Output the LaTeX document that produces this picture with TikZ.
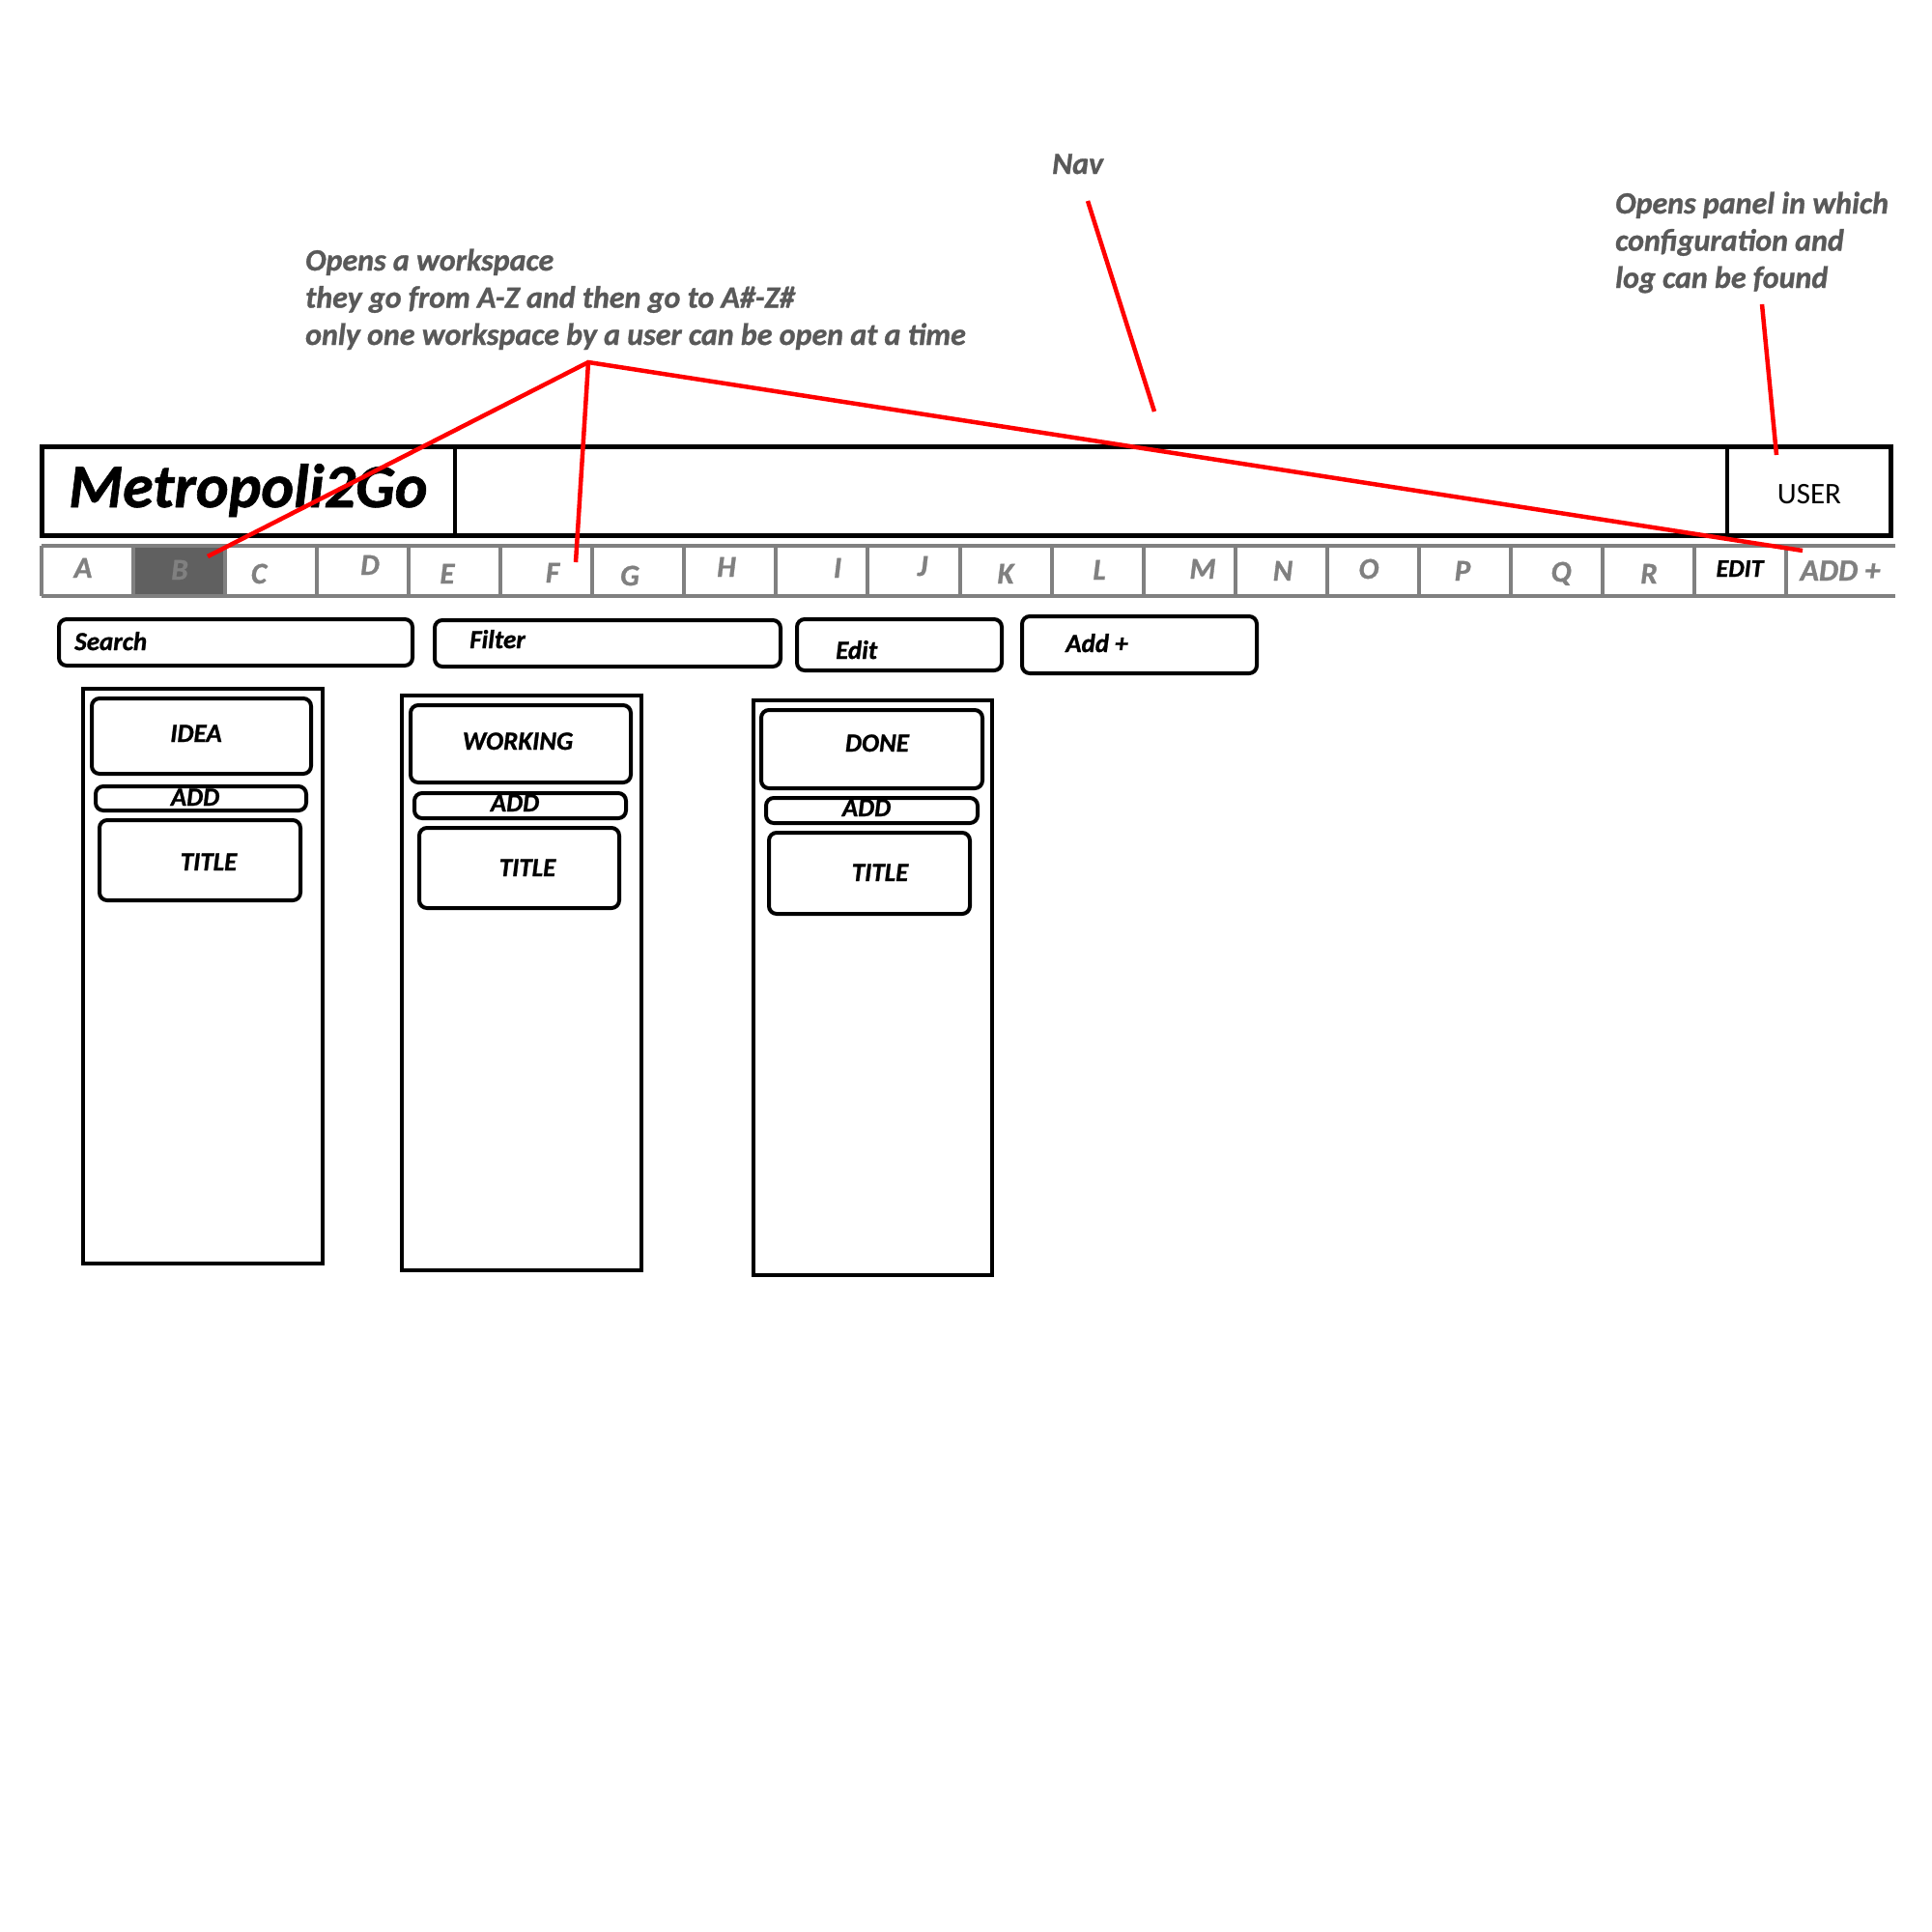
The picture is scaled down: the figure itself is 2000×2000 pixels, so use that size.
\documentclass[tikz,border=0pt]{standalone}
\usepackage{fontspec}
\setmainfont{Carlito}[BoldItalicFeatures={FakeBold=1}]
\definecolor{annot}{HTML}{595959}
\definecolor{tabgray}{HTML}{808080}
\definecolor{tabsel}{HTML}{606060}
\begin{document}
\begin{tikzpicture}[x=1pt,y=-1pt,
  hdrline/.style={draw=black,line width=5pt},
  divline/.style={draw=black,line width=4pt},
  tabline/.style={draw=tabgray,line width=4pt},
  redline/.style={draw=red,line width=4.5pt},
  colbox/.style={draw=black,line width=4pt},
  rbox/.style={draw=black,line width=4pt,rounded corners=8pt},
  note/.style={text=annot,font=\fontsize{32}{38.5}\selectfont\bfseries\itshape,align=left,inner sep=0pt,anchor=base west},
  tabtxt/.style={text=tabgray,font=\fontsize{31}{36}\selectfont\bfseries\itshape,inner sep=0pt,anchor=base},
  lbl/.style={font=\fontsize{27}{30}\selectfont\bfseries\itshape,inner sep=0pt,anchor=base},
  lblw/.style={lbl,anchor=base west},
]
\useasboundingbox (0,0) rectangle (2000,2000);
\fill[white] (0,0) rectangle (2000,2000);

% annotations (anchor at baseline of the last line)
\node[note] (n1) at (316,357) {Opens a workspace\\they go from A-Z and then go to A\#-Z\#\\only one workspace by a user can be open at a time};
\node[note] (nav) at (1089,180) {Nav};
\node[note] (n2) at (1672,298) {Opens panel in which\\configuration and\\log can be found};

% header
\draw[hdrline] (43.5,462.5) rectangle (1957.5,554.5);
\draw[divline] (471,462.5) -- (471,554.5);
\draw[divline] (1788,462.5) -- (1788,554.5);
\node[font=\fontsize{64}{70}\selectfont\bfseries\itshape,inner sep=0pt,anchor=base west] (logo) at (71,525) {Metropoli2Go};
\node[font=\fontsize{31}{34}\selectfont,inner sep=0pt,anchor=base] (user) at (1873,521) {USER};

% tab row
\fill[tabsel] (137.6,565) rectangle (232.7,617);
\draw[tabline] (42.5,565) -- (1962,565);
\draw[tabline] (42.5,617) -- (1962,617);
\draw[tabline] (42.5,565) -- (42.5,617);
\foreach \i in {1,...,19} \draw[tabline] ({42.5+95.1*\i},565) -- ({42.5+95.1*\i},617);
\foreach \x/\y/\t/\n in {86/598/A/ta,186/600/B/tb,268/604/C/tc,383/595/D/td,463/604/E/te,572/603/F/tf,652/606/G/tg,752/597/H/th,867/598/I/ti,955/596/J/tj,1041/604/K/tk,1138/600/L/tl,1245/599/M/tm,1328/601/N/tn,1417/599/O/to,1514/601/P/tp,1616/602/Q/tq,1707/604/R/tr}
  \node[tabtxt] (\n) at (\x,\y) {\t};
\node[tabtxt,text=black,font=\fontsize{26}{30}\selectfont\bfseries\itshape] (tedit) at (1801,597) {EDIT};
\node[tabtxt,font=\fontsize{32}{36}\selectfont\bfseries\itshape] (tadd) at (1905,601) {ADD +};

% toolbar
\draw[rbox] (61,641) rectangle (427,689);
\node[lblw] (search) at (77,673) {Search};
\draw[rbox] (450,642) rectangle (808,690);
\node[lblw] (filter) at (486,671) {Filter};
\draw[rbox] (825,641) rectangle (1037,694);
\node[lblw] (edit) at (865,682) {Edit};
\draw[rbox] (1058,638) rectangle (1301,697);
\node[lblw] (addp) at (1103,675) {Add +};

% columns
\draw[colbox] (86,713) rectangle (334,1308);
\draw[rbox] (95,723) rectangle (322,801);
\node[lbl] (idea) at (203,768) {IDEA};
\draw[rbox] (99,814) rectangle (317,839);
\node[lbl] (add1) at (202,834) {ADD};
\draw[rbox] (103,849) rectangle (311,932);
\node[lbl] (title1) at (216,901) {TITLE};

\draw[colbox] (416,720) rectangle (664,1315);
\draw[rbox] (425,730) rectangle (653,810);
\node[lbl] (working) at (536,776) {WORKING};
\draw[rbox] (429,821) rectangle (648,847);
\node[lbl] (add2) at (533,840) {ADD};
\draw[rbox] (434,857) rectangle (641,940);
\node[lbl] (title2) at (546,907) {TITLE};

\draw[colbox] (780,725) rectangle (1027,1320);
\draw[rbox] (788,735) rectangle (1017,816);
\node[lbl] (done) at (908,778) {DONE};
\draw[rbox] (793,826) rectangle (1012,852);
\node[lbl] (add3) at (897,845) {ADD};
\draw[rbox] (796,862) rectangle (1004,946);
\node[lbl] (title3) at (911,912) {TITLE};

% red connectors
\coordinate (apex) at (609,375);
\coordinate (pb) at (215,576);
\coordinate (pf) at (596,582);
\coordinate (padd) at (1866,570);
\coordinate (nava) at (1126,208);
\coordinate (navb) at (1195,426);
\coordinate (usa) at (1824,315);
\coordinate (usb) at (1839,471);
\draw[redline] (pb) -- (apex) -- (padd);
\draw[redline] (apex) -- (pf);
\draw[redline] (nava) -- (navb);
\draw[redline] (usa) -- (usb);
\end{tikzpicture}
\end{document}
